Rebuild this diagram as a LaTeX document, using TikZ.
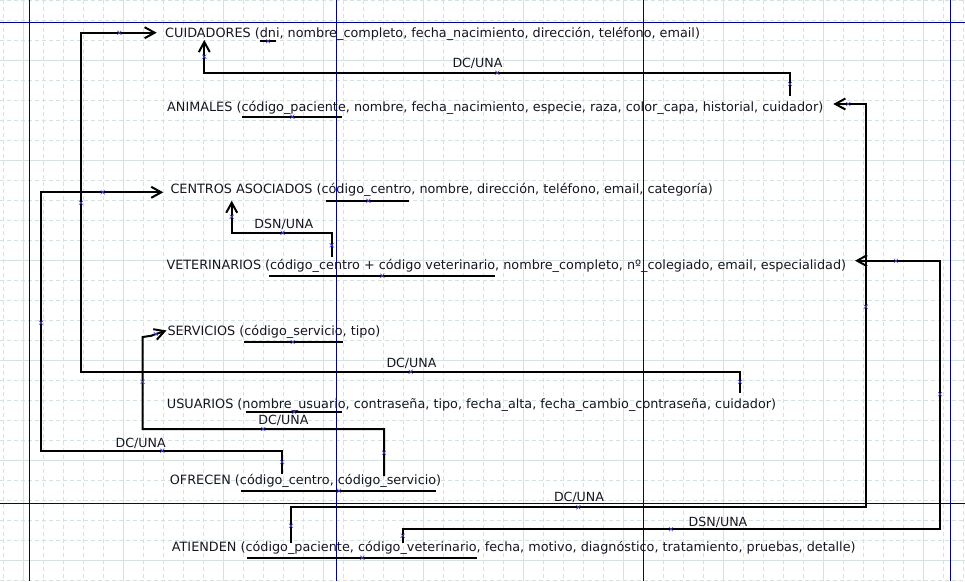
\documentclass[tikz,border=0pt]{standalone}
\usepackage{fontspec}
\setmainfont{DejaVu Sans}
\usetikzlibrary{arrows.meta}
\definecolor{gridc}{RGB}{212,226,224}
\definecolor{pagec}{RGB}{0,0,150}
\definecolor{txtc}{RGB}{22,22,34}
\definecolor{markc}{RGB}{70,70,235}
\begin{document}
\begin{tikzpicture}[x=1pt,y=-1pt,
  rel/.style={anchor=base west,inner sep=0pt,font=\fontsize{12.8}{15}\selectfont,text=txtc},
  lbl/.style={anchor=base,inner sep=0pt,font=\fontsize{12.6}{15}\selectfont,text=txtc},
  conn/.style={line width=2pt,black},
  arr/.style={conn,-{Straight Barb[length=10pt,width=11pt]}},
  pk/.style={line width=2pt,black},
  gridminor/.style={gridc,line width=1pt,dash pattern=on 4pt off 3pt},
  gridmajor/.style={gridc,line width=1pt},
  pageline/.style={pagec,line width=1pt},
  mk/.pic={\draw[markc,line width=0.6pt] (-2,-2)--(2,2) (-2,2)--(2,-2);}
]
\useasboundingbox (0,0) rectangle (965,581);
\fill[white] (0,0) rectangle (965,581);
% grid
\foreach \x in {3,23,...,963} \draw[gridminor] (\x,0) -- (\x,581);
\foreach \y in {0,20,...,580} \draw[gridminor] (0,\y) -- (965,\y);
\foreach \x in {23,123,...,923} \draw[gridmajor] (\x,0) -- (\x,581);
\foreach \y in {60,160,...,560} \draw[gridmajor] (0,\y) -- (965,\y);
% page borders
\foreach \x in {29.3,336.7,643.3,950.7} \draw[pageline] (\x,0) -- (\x,581);
\foreach \y in {22.3,503.3} \draw[pageline] (0,\y) -- (965,\y);

% relations
\node[rel] (cuid) at (165,37.7) {CUIDADORES (dni, nombre\_completo, fecha\_nacimiento, dirección, teléfono, email)};
\node[rel] (anim) at (167,111) {ANIMALES (código\_paciente, nombre, fecha\_nacimiento, especie, raza, color\_capa, historial, cuidador)};
\node[rel] (cent) at (170.3,193.6) {CENTROS ASOCIADOS (código\_centro, nombre, dirección, teléfono, email, categoría)};
\node[rel] (vet) at (166.3,269) {VETERINARIOS (código\_centro + código veterinario, nombre\_completo, nº\_colegiado, email, especialidad)};
\node[rel] (serv) at (167.3,335) {SERVICIOS (código\_servicio, tipo)};
\node[rel] (usu) at (166.7,408.6) {USUARIOS (nombre\_usuario, contraseña, tipo, fecha\_alta, fecha\_cambio\_contraseña, cuidador)};
\node[rel] (ofr) at (169.7,484.3) {OFRECEN (código\_centro, código\_servicio)};
\node[rel] (ati) at (171.7,551.6) {ATIENDEN (código\_paciente, código\_veterinario, fecha, motivo, diagnóstico, tratamiento, pruebas, detalle)};

% primary key underlines
\draw[pk] (260,41.3) -- (276,41.3);   \pic at (268,41.3) {mk};
\draw[pk] (242,116.7) -- (341.7,116.7); \pic at (292.3,116.7) {mk};
\draw[pk] (326,200.7) -- (409.3,200.7); \pic at (368.3,200.7) {mk};
\draw[pk] (269.3,275.7) -- (495,275.7); \pic at (382.3,275.7) {mk};
\draw[pk] (244.3,342) -- (342.7,342);  \pic at (292.7,342) {mk};
\draw[pk] (246,412) -- (341.7,412);    \pic at (294.3,412) {mk};
\draw[pk] (241,490.7) -- (435.7,490.7); \pic at (339,490.7) {mk};
\draw[pk] (247,557.7) -- (476.7,557.7); \pic at (362.3,557.7) {mk};

% connector end points
\coordinate (c1s) at (740,393);   \coordinate (c1e) at (156.7,32.7);
\coordinate (c2s) at (790,95.7);  \coordinate (c2e) at (204.3,40);
\coordinate (c3s) at (331.7,256.7); \coordinate (c3e) at (231.7,200.7);
\coordinate (c4s) at (282.3,474); \coordinate (c4e) at (163.3,192.3);
\coordinate (c5s) at (384,476);   \coordinate (c5e) at (166.5,330.5);
\coordinate (c6s) at (291,542.7); \coordinate (c6e) at (833.3,104);
\coordinate (c7s) at (402.7,543.3); \coordinate (c7e) at (855,260.7);

% connectors
\draw[arr] (c1s) |- (81,371.7) |- (c1e);
\draw[arr] (c2s) |- (204.3,72.7) -- (c2e);
\draw[arr] (c3s) |- (231.7,232.7) -- (c3e);
\draw[arr] (c4s) |- (41,450.7) |- (c4e);
\draw[arr] (c5s) |- (142.7,429) -- (142.7,337) -- (151,335.8) -- (c5e);
\draw[arr] (c6s) |- (865.7,507.3) |- (c6e);
\draw[arr] (c7s) |- (940,529.3) |- (c7e);

% handle marks
\foreach \p in {(410.7,371.7),(81,202.7),(119.3,32.7),(740,381.7),
  (497.3,72.7),(790,84),(204.3,56.7),
  (282.7,232.7),(331.7,245.3),(231.7,216.7),
  (162.3,450.7),(282.3,462),(41,322.7),(102.7,192.3),
  (263.3,429),(384,452.7),(142.7,381.7),(155.7,334),
  (578.3,507.3),(291,525.7),(865.7,306.7),(848.3,104),
  (671,529.3),(402.7,535.7),(940,394.3),(896,260.7)}
  \pic at \p {mk};

% labels
\node[lbl] (l1) at (411.5,367.6) {DC/UNA};
\node[lbl] (l2) at (477.5,67.6) {DC/UNA};
\node[lbl] (l3) at (283.8,228.6) {DSN/UNA};
\node[lbl] (l4) at (140.7,447) {DC/UNA};
\node[lbl] (l5) at (283.5,424.3) {DC/UNA};
\node[lbl] (l6) at (579,501) {DC/UNA};
\node[lbl] (l7) at (718,526) {DSN/UNA};
\end{tikzpicture}
\end{document}
